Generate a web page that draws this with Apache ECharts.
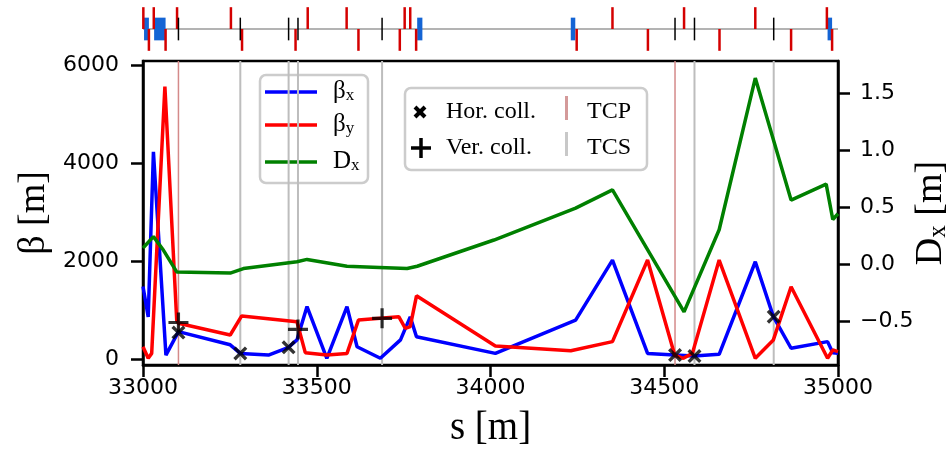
<!DOCTYPE html>
<html><head><meta charset="utf-8">
<script src="https://cdn.jsdelivr.net/npm/echarts@6/dist/echarts.min.js"></script>
<style>html,body{margin:0;padding:0;background:#fff}#c{width:947px;height:449px}</style>
</head><body><div id="c"></div>
<script>
// ---- data ----
const sBx   = [33000,33015,33030,33066,33102,33251,33280,33361,33419,33443,33472,33529,33587,33616,33683,33741,33769,33787,34014,34245,34351,34452,34530,34586,34658,34762,34814,34865,34970,34985,35000];
const betaX = [1480,860,4230,80,560,290,115,80,240,390,1070,15,1070,250,15,390,860,455,115,795,2020,115,80,60,95,1985,865,220,355,130,115];
const sBy   = [33000,33015,33025,33063,33097,33102,33251,33284,33443,33467,33529,33587,33620,33736,33755,33769,33787,34014,34231,34351,34452,34530,34555,34581,34658,34762,34814,34865,34970,34985,35000];
const betaY = [250,15,115,5560,795,730,490,880,760,130,80,115,795,865,625,660,1290,265,170,355,2020,80,15,115,2020,15,390,1475,15,185,150];
const sDx   = [33000,33030,33059,33097,33251,33289,33443,33472,33587,33680,33760,33789,34010,34245,34351,34557,34658,34762,34865,34966,34985,35000];
const dispX = [0.14,0.24,0.12,-0.07,-0.08,-0.04,0.02,0.04,-0.02,-0.03,-0.04,-0.02,0.21,0.49,0.65,-0.42,0.30,1.63,0.56,0.70,0.39,0.44];
const tcpS  = [33102,34531];
const tcsS  = [33280,33419,33446,33688,34587,34815];
const horS  = [33102,33280,33419,34531,34587,34815];
const horB  = [540,115,240,80,60,865];
const verS  = [33102,33446,33688];
const verB  = [745,605,830];
const quadF = [33001,33031,33098,33253,33474,33586,33753,33769,34351,34557,34762,34968];
const quadD = [33017,33065,33285,33439,33620,33739,33786,34248,34453,34659,34865,34983];
const dipoles = [[33003,33017],[33032,33065],[33789,33804],[34231,34244],[34970,34983]];
const xTicks = [33000,33500,34000,34500,35000];
const yLeftTicks = [0,2000,4000,6000];
const yRightTicks = [-0.5,0,0.5,1,1.5];

// ---- chart ----
const X0=33000, X1=35000, YL0=-122, YL1=6082, YR0=-0.886, YR1=1.78;
const pair=(a,b)=>a.map((v,i)=>[v,b[i]]);
const serif="'Liberation Serif','Times New Roman',serif";
const sans="'DejaVu Sans',sans-serif";
const plusPath='path://M0,8.4H8.4V0H11.6V8.4H20V11.6H11.6V20H8.4V11.6H0Z';
const d=1.7;
const xPath='path://M0,'+d+'L'+d+',0L5,'+(5-d)+'L'+(10-d)+',0L10,'+d+'L'+(5+d)+',5L10,'+(10-d)+'L'+(10-d)+',10L5,'+(5+d)+'L'+d+',10L0,'+(10-d)+'L'+(5-d)+',5Z';

function vline(color,width){
  return function(params,api){
    const s=api.value(0);
    const p0=api.coord([s,YL0]), p1=api.coord([s,YL1]);
    return {type:'line',shape:{x1:p0[0],y1:p0[1],x2:p1[0],y2:p1[1]},style:{stroke:color,lineWidth:width}};
  };
}

const chart=echarts.init(document.getElementById('c'),null,{renderer:'canvas'});
const axisStyle={color:'#000',width:2.5};
const option={
  animation:false,
  backgroundColor:'#fff',
  grid:[
    {left:143,top:61,width:695,height:304,show:true,borderColor:'#000',borderWidth:2.5,backgroundColor:'transparent',outerBoundsMode:'none',containLabel:false},
    {left:143,top:5,width:695,height:48,show:false,outerBoundsMode:'none',containLabel:false}
  ],
  xAxis:[
    {gridIndex:0,type:'value',min:X0,max:X1,interval:500,
     axisLine:{show:true,onZero:false,lineStyle:axisStyle},
     axisTick:{show:true,length:12,lineStyle:axisStyle},
     axisLabel:{color:'#000',fontSize:22,fontFamily:sans,margin:12,formatter:v=>String(v)},
     splitLine:{show:false},
     name:'s [m]',nameLocation:'middle',nameGap:44,nameMoveOverlap:false,
     nameTextStyle:{color:'#000',fontSize:39,fontFamily:serif}},
    {gridIndex:1,type:'value',min:X0,max:X1,show:false}
  ],
  yAxis:[
    {gridIndex:0,type:'value',min:YL0,max:YL1,position:'left',
     axisLine:{show:true,onZero:false,lineStyle:axisStyle},
     axisTick:{show:true,length:12,lineStyle:axisStyle,customValues:yLeftTicks},
     axisLabel:{color:'#000',fontSize:22,fontFamily:sans,margin:24,customValues:yLeftTicks,formatter:v=>String(v)},
     splitLine:{show:false},
     name:'β [m]',nameLocation:'middle',nameRotate:90,nameGap:90,nameMoveOverlap:false,
     nameTextStyle:{color:'#000',fontSize:38,fontFamily:serif}},
    {gridIndex:0,type:'value',min:YR0,max:YR1,position:'right',
     axisLine:{show:true,onZero:false,lineStyle:axisStyle},
     axisTick:{show:true,length:12,lineStyle:axisStyle,customValues:yRightTicks},
     axisLabel:{color:'#000',fontSize:22,fontFamily:sans,margin:22,customValues:yRightTicks,
       formatter:v=>(v<0?'\u2212':'')+Math.abs(v).toFixed(1)},
     splitLine:{show:false},
     name:'{a|D}{b|x}{a| [m]}',nameLocation:'middle',nameRotate:90,nameGap:74,nameMoveOverlap:false,
     nameTextStyle:{color:'#000',fontSize:38,fontFamily:serif,
       rich:{a:{fontSize:38,fontFamily:serif,color:'#000'},b:{fontSize:25,fontFamily:serif,color:'#000',padding:[14,0,0,0]}}}},
    {gridIndex:1,type:'value',min:-1.1,max:1.1,show:false}
  ],
  series:[
    {type:'custom',name:'TCP',xAxisIndex:0,yAxisIndex:0,data:tcpS.map(s=>[s,0]),renderItem:vline('#d48a8a',1.5),z:1,silent:true},
    {type:'custom',name:'TCS',xAxisIndex:0,yAxisIndex:0,data:tcsS.map(s=>[s,0]),renderItem:vline('#bdbdbd',2),z:1,silent:true},
    {type:'line',name:'βx',xAxisIndex:0,yAxisIndex:0,data:pair(sBx,betaX),symbol:'none',lineStyle:{color:'#0000ff',width:3.5},itemStyle:{color:'#0000ff'},z:3},
    {type:'line',name:'βy',xAxisIndex:0,yAxisIndex:0,data:pair(sBy,betaY),symbol:'none',lineStyle:{color:'#ff0000',width:3.5},itemStyle:{color:'#ff0000'},z:4},
    {type:'line',name:'Dx',xAxisIndex:0,yAxisIndex:1,data:pair(sDx,dispX),symbol:'none',lineStyle:{color:'#008000',width:3.5},itemStyle:{color:'#008000'},z:5},
    {type:'scatter',name:'Hor. coll.',xAxisIndex:0,yAxisIndex:0,data:pair(horS,horB),symbol:xPath,symbolSize:14,itemStyle:{color:'#000'},z:8},
    {type:'scatter',name:'Ver. coll.',xAxisIndex:0,yAxisIndex:0,data:pair(verS,verB),symbol:plusPath,symbolSize:20,itemStyle:{color:'#000'},z:8},
    // lattice strip
    {type:'line',xAxisIndex:1,yAxisIndex:2,data:[[X0,0],[X1,0]],symbol:'none',lineStyle:{color:'#9a9a9a',width:1.5},z:1,silent:true},
    {type:'custom',xAxisIndex:1,yAxisIndex:2,data:dipoles,encode:{x:[0,1]},z:2,silent:true,
     renderItem:(p,api)=>{const a=api.coord([api.value(0),0.52]),b=api.coord([api.value(1),-0.52]);
       return {type:'rect',shape:{x:a[0],y:a[1],width:b[0]-a[0],height:b[1]-a[1]},style:{fill:'#1464d4'}};}},
    {type:'custom',xAxisIndex:1,yAxisIndex:2,data:quadF.map(s=>[s,1]).concat(quadD.map(s=>[s,-1])),z:3,silent:true,
     renderItem:(p,api)=>{const s=api.value(0),dir=api.value(1);const a=api.coord([s,0]),b=api.coord([s,dir]);
       return {type:'rect',shape:{x:a[0]-1.25,y:Math.min(a[1],b[1]),width:2.5,height:Math.abs(b[1]-a[1])},style:{fill:'#d40000'}};}},
    {type:'custom',xAxisIndex:1,yAxisIndex:2,data:tcpS.concat(tcsS).map(s=>[s,0]),z:4,silent:true,
     renderItem:(p,api)=>{const s=api.value(0);const a=api.coord([s,0.52]),b=api.coord([s,-0.52]);
       return {type:'line',shape:{x1:a[0],y1:a[1],x2:b[0],y2:b[1]},style:{stroke:'#000',lineWidth:1.5}};}}
  ],
  graphic:[
    {type:'group',z:50,children:[
      {type:'rect',shape:{x:260,y:75,width:108,height:108,r:6},style:{fill:'rgba(255,255,255,0.8)',stroke:'#cccccc',lineWidth:2.5}},
      {type:'line',shape:{x1:265,y1:92,x2:317,y2:92},style:{stroke:'#0000ff',lineWidth:3.5}},
      {type:'line',shape:{x1:265,y1:125,x2:317,y2:125},style:{stroke:'#ff0000',lineWidth:3.5}},
      {type:'line',shape:{x1:265,y1:162,x2:317,y2:162},style:{stroke:'#008000',lineWidth:3.5}},
      {type:'text',x:333,y:91,style:{text:'{a|β}{b|x}',verticalAlign:'middle',rich:{a:{fontSize:25,fontFamily:serif,fill:'#000'},b:{fontSize:17,fontFamily:serif,fill:'#000',padding:[10,0,0,0]}}}},
      {type:'text',x:333,y:124,style:{text:'{a|β}{b|y}',verticalAlign:'middle',rich:{a:{fontSize:25,fontFamily:serif,fill:'#000'},b:{fontSize:17,fontFamily:serif,fill:'#000',padding:[10,0,0,0]}}}},
      {type:'text',x:333,y:161,style:{text:'{a|D}{b|x}',verticalAlign:'middle',rich:{a:{fontSize:25,fontFamily:serif,fill:'#000'},b:{fontSize:17,fontFamily:serif,fill:'#000',padding:[10,0,0,0]}}}}
    ]},
    {type:'group',z:50,children:[
      {type:'rect',shape:{x:405,y:88,width:242,height:82,r:6},style:{fill:'rgba(255,255,255,0.8)',stroke:'#cccccc',lineWidth:2.5}},
      {type:'line',shape:{x1:415,y1:107,x2:425,y2:117},style:{stroke:'#000',lineWidth:4}},
      {type:'line',shape:{x1:425,y1:107,x2:415,y2:117},style:{stroke:'#000',lineWidth:4}},
      {type:'line',shape:{x1:411,y1:148,x2:431,y2:148},style:{stroke:'#000',lineWidth:3.5}},
      {type:'line',shape:{x1:421,y1:138,x2:421,y2:158},style:{stroke:'#000',lineWidth:3.5}},
      {type:'text',x:446,y:112,style:{text:'Hor. coll.',verticalAlign:'middle',fontSize:24,fontFamily:serif,fill:'#000'}},
      {type:'text',x:446,y:148,style:{text:'Ver. coll.',verticalAlign:'middle',fontSize:24,fontFamily:serif,fill:'#000'}},
      {type:'rect',shape:{x:565,y:96,width:3,height:24},style:{fill:'#d49a9a'}},
      {type:'rect',shape:{x:565,y:132,width:3,height:24},style:{fill:'#c8c8c8'}},
      {type:'text',x:587,y:112,style:{text:'TCP',verticalAlign:'middle',fontSize:24,fontFamily:serif,fill:'#000'}},
      {type:'text',x:587,y:148,style:{text:'TCS',verticalAlign:'middle',fontSize:24,fontFamily:serif,fill:'#000'}}
    ]}
  ]
};
chart.setOption(option);
</script>
</body></html>
